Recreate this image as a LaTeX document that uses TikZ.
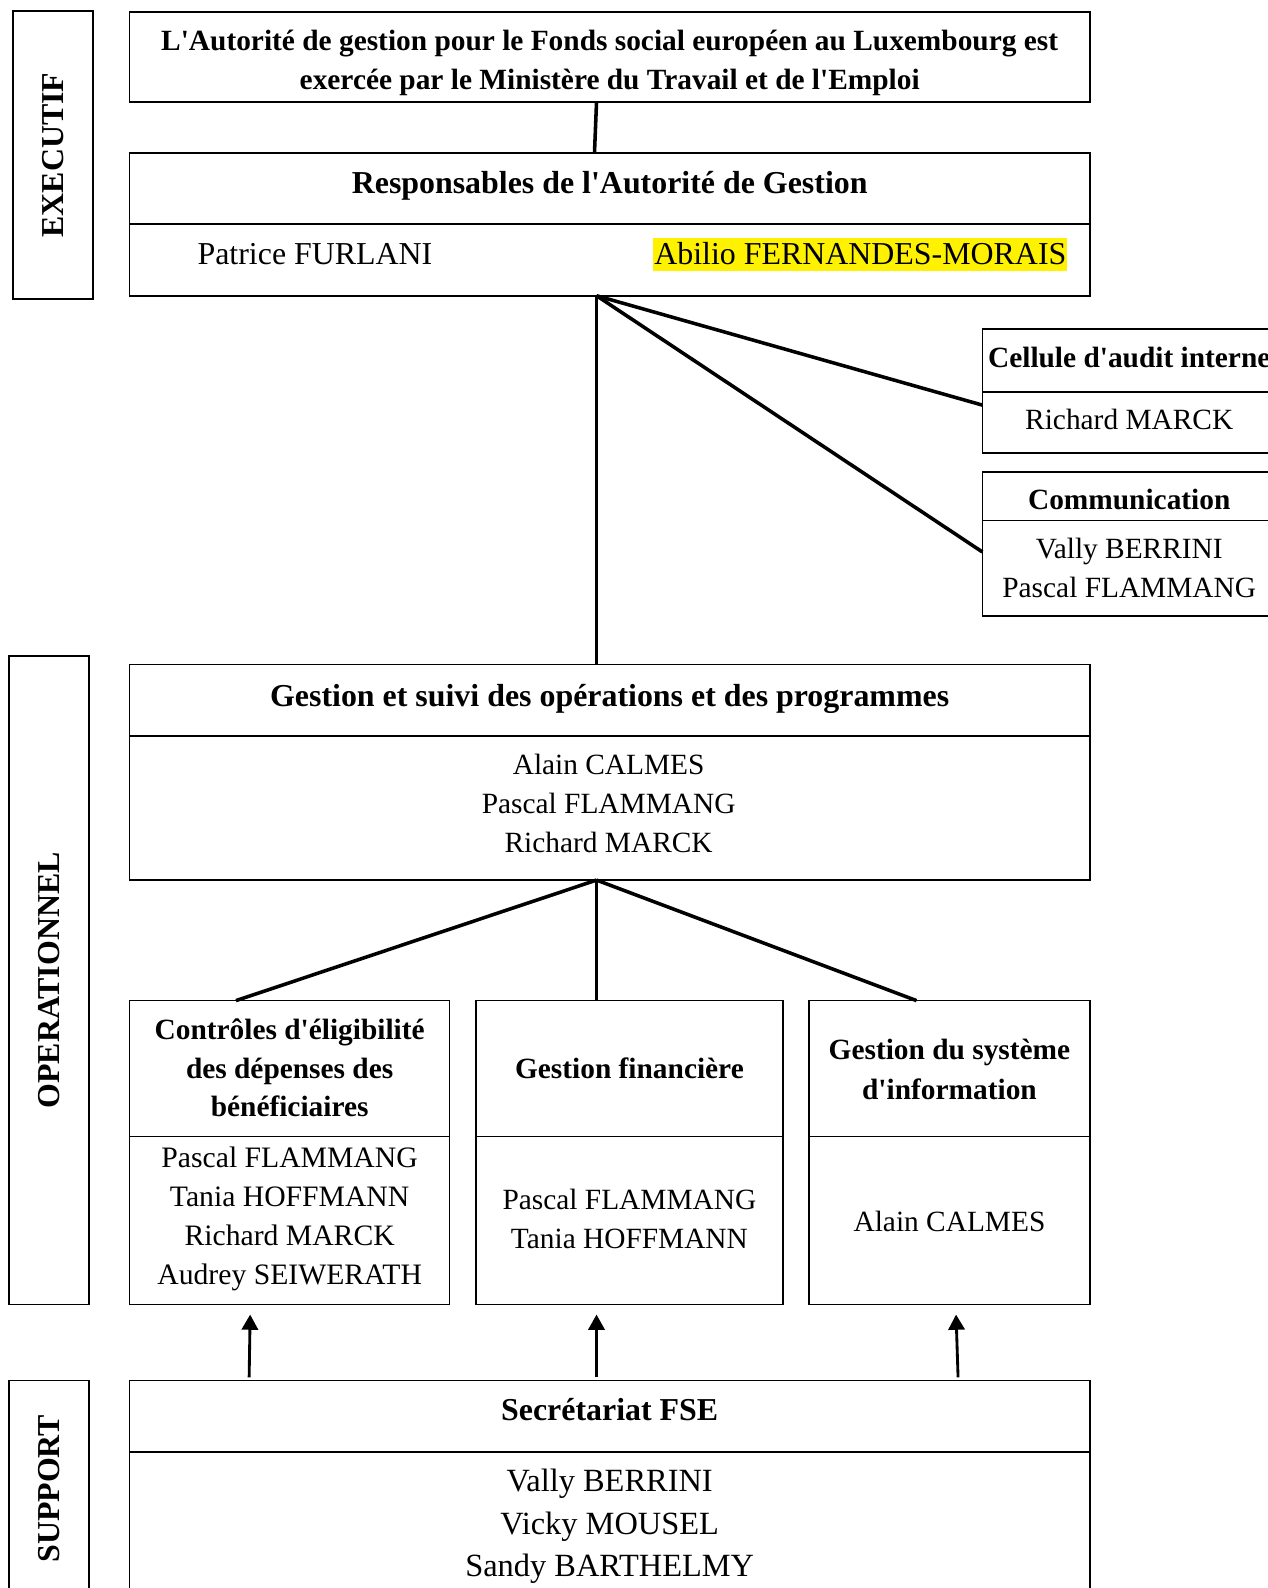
\documentclass[tikz,border=0pt]{standalone}
\usepackage{fontspec}
\setmainfont{Liberation Serif}
\usetikzlibrary{arrows.meta}
\newcommand\aq{\textquotesingle}
\begin{document}
\begin{tikzpicture}[x=1pt,y=-1pt,
  box/.style={draw, line width=1.6pt, rectangle, inner sep=0pt, outer sep=0pt},
  conn/.style={line width=3.5pt},
  arr/.style={line width=2.8pt, -{Triangle[length=15pt,width=16pt]}},
  divl/.style={line width=1.6pt},
  txt/.style={font=\fontsize{31.5}{38.5}\selectfont, inner sep=0pt, anchor=base, align=center},
  btxt/.style={txt, font=\fontsize{31.5}{38.5}\selectfont\bfseries},
  stxt/.style={txt, font=\fontsize{29}{38.5}\selectfont},
  sbtxt/.style={txt, font=\fontsize{29}{38.5}\selectfont\bfseries},
  side/.style={box, minimum width=79pt},
  sidetxt/.style={font=\fontsize{31.5}{38.5}\selectfont\bfseries, rotate=90, inner sep=0pt}
]
\useasboundingbox (0,0) rectangle (1252,1568);

% side labels
\node[side, minimum height=284pt] (exec) at (52.5,153) {};
\node[sidetxt] (exect) at (52.5,153) {EXECUTIF};
\node[side, minimum height=640pt] (oper) at (48.5,968) {};
\node[sidetxt] (opert) at (48.5,968) {OPERATIONNEL};
\node[side, minimum height=237pt] (sup) at (48.5,1481.5) {};
\node[sidetxt] (supt) at (48.5,1470) {SUPPORT};

% top box
\node[box, minimum width=948pt, minimum height=89pt] (top) at (602,56.5) {};
\node[sbtxt, font=\fontsize{29}{38}\selectfont\bfseries] (topt) at (602,88)
  {L\aq Autorité de gestion pour le Fonds social européen au Luxembourg est\\exercée par le Ministère du Travail et de l\aq Emploi};

% responsables
\node[box, minimum width=948pt, minimum height=141pt] (resp) at (602,221.5) {};
\draw[divl] (resp.west |- 0,221) -- (resp.east |- 0,221);
\node[btxt] (respt) at (602,191) {Responsables de l\aq Autorité de Gestion};
\node[txt] (furlani) at (311,261.5) {Patrice FURLANI};
\node[txt, fill=yellow, inner xsep=1pt, text height=26.5pt, text depth=6.5pt] (abilio) at (849.5,261.5) {Abilio FERNANDES-MORAIS};

% cellule audit
\node[box, minimum width=290pt, minimum height=122pt] (cell) at (1115,386) {};
\draw[divl] (cell.west |- 0,387) -- (cell.east |- 0,387);
\node[sbtxt] (cellt) at (1115,362.5) {Cellule d\aq audit interne};
\node[stxt] (cellm) at (1115,424.5) {Richard MARCK};

% communication
\node[box, minimum width=290pt, minimum height=142pt] (comm) at (1115,537) {};
\draw[divl] (comm.west |- 0,514) -- (comm.east |- 0,514);
\node[sbtxt] (commt) at (1115,503.5) {Communication};
\node[stxt] (commm) at (1115,589.5) {Vally BERRINI\\Pascal FLAMMANG};

% gestion et suivi
\node[box, minimum width=948pt, minimum height=213pt] (gest) at (602,762.5) {};
\draw[divl] (gest.west |- 0,727) -- (gest.east |- 0,727);
\node[btxt] (gestt) at (602,698) {Gestion et suivi des opérations et des programmes};
\node[stxt] (gestm) at (601,841.5) {Alain CALMES\\Pascal FLAMMANG\\Richard MARCK};

% three boxes
\node[box, minimum width=316pt, minimum height=300pt] (b1) at (286,1138) {};
\draw[divl] (b1.west |- 0,1122) -- (b1.east |- 0,1122);
\node[sbtxt, font=\fontsize{29}{38}\selectfont\bfseries] (b1t) at (286,1102.5) {Contrôles d\aq éligibilité\\des dépenses des\\bénéficiaires};
\node[stxt, font=\fontsize{29.3}{38.5}\selectfont] (b1m) at (286,1268) {Pascal FLAMMANG\\Tania HOFFMANN\\Richard MARCK\\Audrey SEIWERATH};

\node[box, minimum width=303pt, minimum height=300pt] (b2) at (621.5,1138) {};
\draw[divl] (b2.west |- 0,1122) -- (b2.east |- 0,1122);
\node[sbtxt] (b2t) at (621.5,1064.5) {Gestion financière};
\node[stxt, font=\fontsize{29}{38}\selectfont] (b2m) at (621.5,1232.5) {Pascal FLAMMANG\\Tania HOFFMANN};

\node[box, minimum width=277pt, minimum height=300pt] (b3) at (937.5,1138) {};
\draw[divl] (b3.west |- 0,1122) -- (b3.east |- 0,1122);
\node[sbtxt, font=\fontsize{29}{39}\selectfont\bfseries] (b3t) at (937.5,1085.5) {Gestion du système\\d\aq information};
\node[stxt] (b3m) at (937.5,1215.5) {Alain CALMES};

% secretariat
\node[box, minimum width=948pt, minimum height=237pt] (sec) at (602,1481.5) {};
\draw[divl] (sec.west |- 0,1434) -- (sec.east |- 0,1434);
\node[btxt] (sect) at (602,1403) {Secrétariat FSE};
\node[txt, font=\fontsize{32}{42}\selectfont] (secm) at (602,1557) {Vally BERRINI\\Vicky MOUSEL\\Sandy BARTHELMY};

% connectors
\draw[conn] ([xshift=-13pt]top.south) -- ([xshift=-15pt]resp.north);
\draw[conn] ([xshift=-13pt]resp.south) -- ([yshift=-14pt]cell.west);
\draw[conn] ([xshift=-13pt]resp.south) -- ([yshift=-8pt]comm.west);
\draw[conn] ([xshift=-13pt]resp.south) -- ([xshift=-13pt]gest.north);
\draw[conn] ([xshift=-13pt]gest.south) -- ([xshift=-53pt]b1.north);
\draw[conn] ([xshift=-13pt]gest.south) -- ([xshift=-32.5pt]b2.north);
\draw[conn] ([xshift=-13pt]gest.south) -- ([xshift=-32.5pt]b3.north);

% arrows
\draw[arr] ([xshift=-356pt,yshift=3pt]sec.north) -- ([xshift=-39pt,yshift=-10pt]b1.south);
\draw[arr] ([xshift=-13pt,yshift=3pt]sec.north) -- ([xshift=-32.5pt,yshift=-10pt]b2.south);
\draw[arr] ([xshift=344pt,yshift=3pt]sec.north) -- ([xshift=6.5pt,yshift=-10pt]b3.south);
\end{tikzpicture}
\end{document}
